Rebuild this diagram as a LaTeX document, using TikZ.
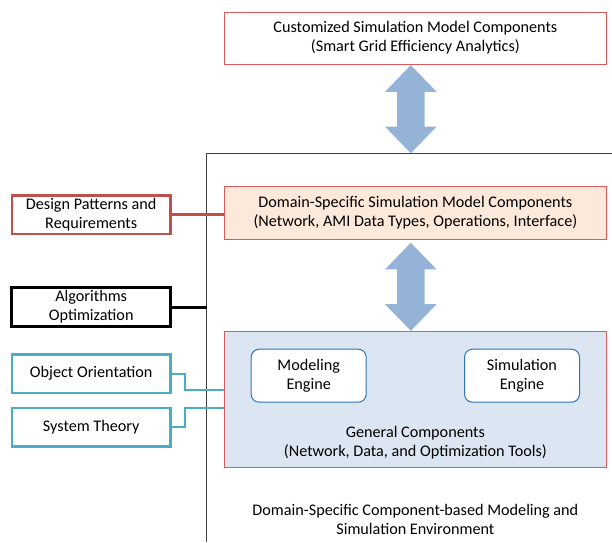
\documentclass[tikz,border=0pt]{standalone}
\usepackage{fontspec}
\setmainfont{Carlito}
\usetikzlibrary{positioning,calc}
\definecolor{boxred}{HTML}{DB5A5E}
\definecolor{darkred}{HTML}{C0504D}
\definecolor{peach}{HTML}{FDE9D9}
\definecolor{paleblue}{HTML}{DCE6F2}
\definecolor{arrowblue}{HTML}{95B3D7}
\definecolor{tealc}{HTML}{4BACC6}
\definecolor{engineblue}{HTML}{2E75B6}
\definecolor{envgray}{HTML}{404040}
\tikzset{
  layer/.style={draw=boxred, line width=0.8pt, minimum width=382pt, align=center, inner sep=0pt},
  side/.style={draw, line width=2.5pt, minimum width=158.5pt, minimum height=38.5pt, align=center, inner sep=0pt},
  engine/.style={draw=engineblue, fill=white, rounded corners=8pt, line width=1pt,
    minimum width=115pt, minimum height=53pt, align=center, inner sep=0pt},
  link/.style={line width=2.5pt},
}
% block arrow between two tips
\newcommand\dblarrow[2]{%
  \fill[arrowblue] (#1) -- ($(#1)+(25.8,26.7)$) -- ($(#1)+(13.7,26.7)$)
    -- ($(#2)+(13.7,-26.7)$) -- ($(#2)+(25.8,-26.7)$) -- (#2)
    -- ($(#2)+(-25.8,-26.7)$) -- ($(#2)+(-13.7,-26.7)$)
    -- ($(#1)+(-13.7,26.7)$) -- ($(#1)+(-25.8,26.7)$) -- cycle;}
\begin{document}
\begin{tikzpicture}[x=1pt, y=-1pt, font=\fontsize{16.2}{19}\selectfont]
\useasboundingbox (0,0) rectangle (612,542);

% environment frame
\coordinate (envtop) at (410.8,153.3);
\coordinate (envleft) at (206.7,153.3);
\draw[envgray, line width=0.8pt] (612,153.3) -- (envleft) -- (206.7,542);

% layers
\node[layer, minimum height=52pt] (custom) at (415.4,38)
  {Customized Simulation Model Components\\(Smart Grid Efficiency Analytics)};
\node[layer, fill=peach, minimum height=52.5pt] (domain) at (415.4,212.7)
  {Domain-Specific Simulation Model Components\\(Network, AMI Data Types, Operations, Interface)};
\node[layer, fill=paleblue, minimum height=136pt] (general) at (415.4,399.2) {};
\node[align=center, inner sep=0pt] (gencap) at (415.4,442.5)
  {General Components\\(Network, Data, and Optimization Tools)};
\node[engine] (modeling) at (308.7,375.7) {Modeling\\Engine};
\node[engine] (simulation) at (522,375.7) {Simulation\\Engine};
\node[align=center, inner sep=0pt] (envcap) at (415.4,519)
  {Domain-Specific Component-based Modeling and\\Simulation Environment};

% arrows
\dblarrow{[xshift=-4.6pt, yshift=-0.7pt]custom.south}{envtop}
\dblarrow{[xshift=-4.6pt, yshift=-3.4pt]domain.south}{[xshift=-4.6pt]general.north}

% foundations
\node[side, draw=darkred] (design) at (91.2,214.5) {Design Patterns and\\Requirements};
\node[side, draw=black, line width=3pt] (algo) at (91.2,307) {Algorithms\\Optimization};
\node[side, draw=tealc] (object) at (91.2,373.7) {Object Orientation};
\node[side, draw=tealc] (system) at (91.2,427.2) {System Theory};

\draw[link, darkred] (design.east) -- (design.east -| domain.west);
\draw[link, black, line width=3pt] (algo.east) -- (algo.east -| envleft);
\draw[link, tealc, line width=2pt] (object.east) -- ++(13.5,0) |- ([yshift=9.2pt]general.west);
\draw[link, tealc, line width=2pt] (system.east) -- ++(13.5,0) |- ([yshift=-8.5pt]general.west);
\end{tikzpicture}
\end{document}
